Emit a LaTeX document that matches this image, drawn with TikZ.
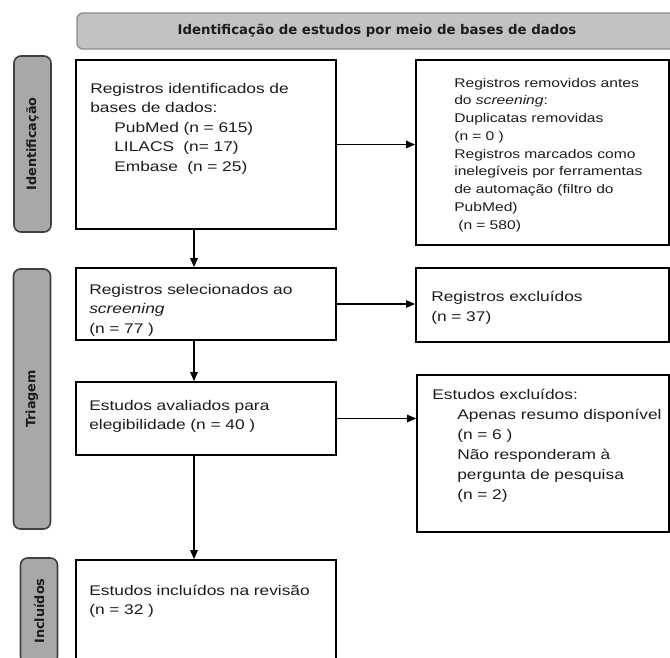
\documentclass[tikz,border=0pt]{standalone}
\usepackage{fontspec}
\setmainfont{Liberation Sans}[FakeStretch=1.24]
\newfontfamily\faixafont{DejaVu Sans}
\usetikzlibrary{arrows.meta}

\definecolor{cinzacab}{HTML}{C2C2C2}
\definecolor{bordacab}{HTML}{8C8C8C}
\definecolor{cinzafase}{HTML}{A8A8A8}
\definecolor{bordafase}{HTML}{404040}
\definecolor{tinta}{HTML}{1C1C1C}

\begin{document}
\begin{tikzpicture}[x=1pt,y=-1pt,
  caixa/.style={draw=black,line width=1.8pt,inner sep=0pt},
  fase/.style={draw=bordafase,fill=cinzafase,line width=1.6pt,rounded corners=7pt,
    rotate=90,minimum height=37pt,inner sep=0pt,text=tinta,
    font=\faixafont\bfseries\fontsize{12.8}{15}\selectfont},
  corpo/.style={anchor=base west,inner sep=0pt,align=left,text width=240pt,
    text=tinta,font=\fontsize{14}{19.5}\selectfont},
  seta/.style={line width=1.3pt,-{Triangle[length=9pt,width=7.5pt]}}]

\useasboundingbox (0,0) rectangle (670,657);
\clip (0,0) rectangle (670,657);

%====================================================
% Cabecalho
%====================================================
\node[draw=bordacab,fill=cinzacab,line width=1.4pt,rounded corners=6pt,
  minimum width=600pt,minimum height=36pt,inner sep=0pt,text=tinta,
  font=\faixafont\bfseries\fontsize{13.3}{16}\selectfont]
  (cabecalho) at (377,31) {Identificação de estudos por meio de bases de dados};

%====================================================
% Faixas das fases
%====================================================
\node[fase,minimum width=176pt] (identificacao) at (32.5,144) {Identificação};
\node[fase,minimum width=260pt] (triagem) at (32,399) {Triagem};
\node[fase,minimum width=106pt] (incluidos) at (39,611) {Incluídos};

%====================================================
% Coluna esquerda
%====================================================
\node[caixa,minimum width=260pt,minimum height=169pt] (registros) at (206,144.5) {};
\node[caixa,minimum width=260pt,minimum height=72pt] (selecionados) at (206,304) {};
\node[caixa,minimum width=260pt,minimum height=73pt] (avaliados) at (206,418.5) {};
\node[caixa,minimum width=260pt,minimum height=130pt] (revisao) at (206,625) {};

\node[corpo] (tRegistros) at ([shift={(15,34)}]registros.north west)
{Registros identificados de\\
 bases de dados:\\
 \hspace*{24pt}PubMed (n = 615)\\
 \hspace*{24pt}LILACS\ \ (n= 17)\\
 \hspace*{24pt}Embase\ \ (n = 25)};

\node[corpo] (tSelecionados) at ([shift={(14,27)}]selecionados.north west)
{Registros selecionados ao\\
 \textit{screening}\\
 (n = 77 )};

\node[corpo] (tAvaliados) at ([shift={(14,29)}]avaliados.north west)
{Estudos avaliados para\\
 elegibilidade (n = 40 )};

\node[corpo] (tRevisao) at ([shift={(14,36)}]revisao.north west)
{Estudos incluídos na revisão\\
 (n = 32 )};

%====================================================
% Coluna direita
%====================================================
\node[caixa,minimum width=253pt,minimum height=185pt] (removidos) at (542.5,152.5) {};
\node[caixa,minimum width=253pt,minimum height=74pt] (excluidosReg) at (542.5,305) {};
\node[caixa,minimum width=252pt,minimum height=157pt] (excluidosEst) at (543,453.5) {};

\node[corpo,font=\fontsize{12.6}{17.75}\selectfont] (tRemovidos)
  at ([shift={(39,28)}]removidos.north west)
{Registros removidos antes\\
 do \textit{screening}:\\
 Duplicatas removidas\\
 (n = 0 )\\
 Registros marcados como\\
 inelegíveis por ferramentas\\
 de automação (filtro do\\
 PubMed)\\
 \hspace*{4pt}(n = 580)};

\node[corpo,font=\fontsize{14}{20}\selectfont] (tExcluidosReg)
  at ([shift={(16,34)}]excluidosReg.north west)
{Registros excluídos\\
 (n = 37)};

\node[corpo,font=\fontsize{14}{20}\selectfont] (tExcluidosEst)
  at ([shift={(16,25)}]excluidosEst.north west)
{Estudos excluídos:\\
 \hspace*{25pt}Apenas resumo disponível\\
 \hspace*{25pt}(n = 6 )\\
 \hspace*{25pt}Não responderam à\\
 \hspace*{25pt}pergunta de pesquisa\\
 \hspace*{25pt}(n = 2)};

%====================================================
% Setas
%====================================================
\coordinate (eixo) at (194,0);
\draw[seta] (registros.south -| eixo) -- (selecionados.north -| eixo);
\draw[seta] (selecionados.south -| eixo) -- (avaliados.north -| eixo);
\draw[seta] (avaliados.south -| eixo) -- (revisao.north -| eixo);

\draw[seta] (registros.east) -- (registros.east -| removidos.west);
\draw[seta] (selecionados.east) -- (selecionados.east -| excluidosReg.west);
\draw[seta] (avaliados.east) -- (avaliados.east -| excluidosEst.west);

\end{tikzpicture}
\end{document}
